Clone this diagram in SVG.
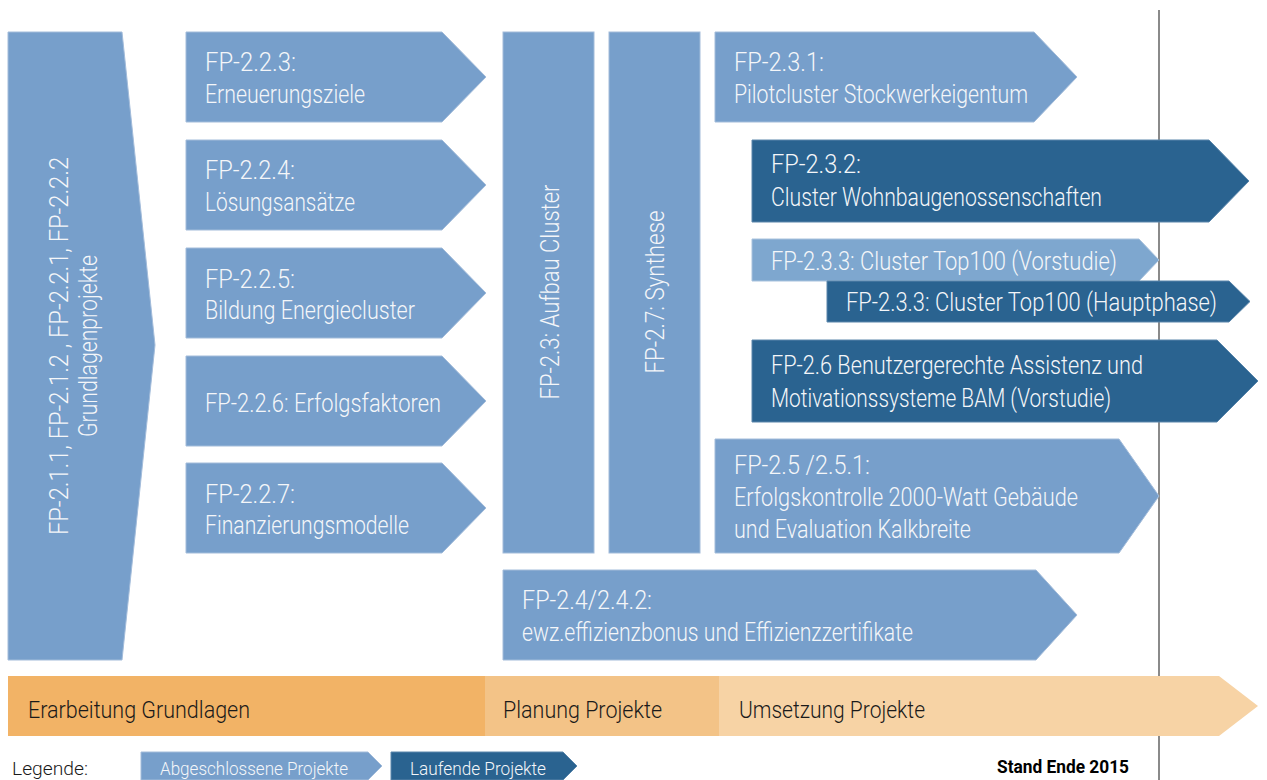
<svg xmlns="http://www.w3.org/2000/svg" width="1267" height="780" viewBox="0 0 1267 780">
<style>
.lb{fill:#779FCB;stroke:#A3BCDA;stroke-width:1}
.lv{fill:#7EA7CF;stroke:#A8C2DD;stroke-width:1}
.db{fill:#2A6390;stroke:#5A86AB;stroke-width:1}
.t{font-family:Roboto,"Liberation Sans",sans-serif;font-weight:300;font-size:25px;fill:#F4F6F9}
.ph{font-family:Roboto,"Liberation Sans",sans-serif;font-weight:300;font-size:24px;fill:#1A1A1A}
.lg{font-family:Roboto,"Liberation Sans",sans-serif;font-weight:300;font-size:19px;fill:#F4F6F9}
.lk{font-family:Roboto,"Liberation Sans",sans-serif;font-weight:300;font-size:19px;fill:#1A1A1A}
.st{font-family:Roboto,"Liberation Sans",sans-serif;font-weight:700;font-size:18px;fill:#000}
</style>
<rect width="1267" height="780" fill="#FFFFFF"/>

<g id="connectors">
<line x1="1159" y1="10" x2="1159" y2="780" stroke="#8A8A8A" stroke-width="2"/>
</g>

<g id="phase-bar">
<polygon points="8,676 1219,676 1258,706 1219,736 8,736" fill="#F7D3A5"/>
<rect x="485" y="676" width="234" height="60" fill="#F3C387"/>
<rect x="8" y="676" width="477" height="60" fill="#F2B366"/>
<text class="ph" x="28" y="718" textLength="222" lengthAdjust="spacingAndGlyphs">Erarbeitung Grundlagen</text>
<text class="ph" x="503" y="718" textLength="159" lengthAdjust="spacingAndGlyphs">Planung Projekte</text>
<text class="ph" x="739" y="718" textLength="186" lengthAdjust="spacingAndGlyphs">Umsetzung Projekte</text>
</g>

<g id="n-grundlagen">
<polygon class="lb" points="8,32 122,32 155,345 122,660 8,660"/>
<text class="t" transform="translate(68,346) rotate(-90)" text-anchor="middle" textLength="378" lengthAdjust="spacingAndGlyphs">FP-2.1.1, FP-2.1.2 , FP-2.2.1, FP-2.2.2</text>
<text class="t" transform="translate(97,346) rotate(-90)" text-anchor="middle" textLength="182" lengthAdjust="spacingAndGlyphs">Grundlagenprojekte</text>
</g>

<g id="n-223">
<polygon class="lb" points="186,32 442,32 486,77 442,122 186,122"/>
<text class="t" x="205" y="71" textLength="91" lengthAdjust="spacingAndGlyphs">FP-2.2.3:</text>
<text class="t" x="205" y="103" textLength="160" lengthAdjust="spacingAndGlyphs">Erneuerungsziele</text>
</g>
<g id="n-224">
<polygon class="lb" points="186,140 442,140 486,185 442,230 186,230"/>
<text class="t" x="205" y="179" textLength="90" lengthAdjust="spacingAndGlyphs">FP-2.2.4:</text>
<text class="t" x="205" y="211" textLength="150" lengthAdjust="spacingAndGlyphs">Lösungsansätze</text>
</g>
<g id="n-225">
<polygon class="lb" points="186,248 442,248 486,293 442,338 186,338"/>
<text class="t" x="205" y="288" textLength="90" lengthAdjust="spacingAndGlyphs">FP-2.2.5:</text>
<text class="t" x="205" y="319" textLength="210" lengthAdjust="spacingAndGlyphs">Bildung Energiecluster</text>
</g>
<g id="n-226">
<polygon class="lb" points="186,356 442,356 486,401 442,446 186,446"/>
<text class="t" x="205" y="412" textLength="236" lengthAdjust="spacingAndGlyphs">FP-2.2.6: Erfolgsfaktoren</text>
</g>
<g id="n-227">
<polygon class="lb" points="186,463 442,463 486,508 442,553 186,553"/>
<text class="t" x="205" y="503" textLength="90" lengthAdjust="spacingAndGlyphs">FP-2.2.7:</text>
<text class="t" x="205" y="534" textLength="204" lengthAdjust="spacingAndGlyphs">Finanzierungsmodelle</text>
</g>

<g id="n-23">
<rect class="lb" x="503" y="32" width="91" height="521"/>
<text class="t" transform="translate(559,292) rotate(-90)" text-anchor="middle" textLength="215" lengthAdjust="spacingAndGlyphs">FP-2.3: Aufbau Cluster</text>
</g>
<g id="n-27">
<rect class="lb" x="609" y="32" width="91" height="521"/>
<text class="t" transform="translate(664,292) rotate(-90)" text-anchor="middle" textLength="163" lengthAdjust="spacingAndGlyphs">FP-2.7: Synthese</text>
</g>

<g id="n-231">
<polygon class="lb" points="715,32 1034,32 1077,77 1034,122 715,122"/>
<text class="t" x="734" y="71" textLength="90" lengthAdjust="spacingAndGlyphs">FP-2.3.1:</text>
<text class="t" x="734" y="103" textLength="294" lengthAdjust="spacingAndGlyphs">Pilotcluster Stockwerkeigentum</text>
</g>
<g id="n-232">
<polygon class="db" points="752,140 1209,140 1249,181 1209,222 752,222"/>
<text class="t" x="771" y="173" textLength="90" lengthAdjust="spacingAndGlyphs">FP-2.3.2:</text>
<text class="t" x="771" y="206" textLength="331" lengthAdjust="spacingAndGlyphs">Cluster Wohnbaugenossenschaften</text>
</g>
<g id="n-233v">
<polygon class="lv" points="752,239 1139,239 1159,260 1139,281 752,281"/>
<text class="t" x="771" y="270" textLength="346" lengthAdjust="spacingAndGlyphs">FP-2.3.3: Cluster Top100 (Vorstudie)</text>
</g>
<g id="n-233h">
<polygon class="db" points="827,281 1229,281 1250,301.5 1229,322 827,322"/>
<text class="t" x="846" y="311" textLength="371" lengthAdjust="spacingAndGlyphs">FP-2.3.3: Cluster Top100 (Hauptphase)</text>
</g>
<g id="n-26">
<polygon class="db" points="752,340 1217,340 1258,381 1217,422 752,422"/>
<text class="t" x="771" y="374" textLength="372" lengthAdjust="spacingAndGlyphs">FP-2.6 Benutzergerechte Assistenz und</text>
<text class="t" x="771" y="407" textLength="340" lengthAdjust="spacingAndGlyphs">Motivationssysteme BAM (Vorstudie)</text>
</g>
<g id="n-25">
<polygon class="lb" points="715,439 1119,439 1159,496 1119,553 715,553"/>
<text class="t" x="734" y="474" textLength="136" lengthAdjust="spacingAndGlyphs">FP-2.5 /2.5.1:</text>
<text class="t" x="734" y="506" textLength="344" lengthAdjust="spacingAndGlyphs">Erfolgskontrolle 2000-Watt Gebäude</text>
<text class="t" x="734" y="538" textLength="237" lengthAdjust="spacingAndGlyphs">und Evaluation Kalkbreite</text>
</g>
<g id="n-24">
<polygon class="lb" points="503,570 1036,570 1077,615 1036,660 503,660"/>
<text class="t" x="522" y="609" textLength="130" lengthAdjust="spacingAndGlyphs">FP-2.4/2.4.2:</text>
<text class="t" x="522" y="641" textLength="391" lengthAdjust="spacingAndGlyphs">ewz.effizienzbonus und Effizienzzertifikate</text>
</g>

<g id="legend">
<text class="lk" x="12" y="775" textLength="76" lengthAdjust="spacingAndGlyphs">Legende:</text>
<polygon class="lb" points="141,752 368,752 382,766 368,780 141,780" stroke="none"/>
<text class="lg" x="160" y="775" textLength="188" lengthAdjust="spacingAndGlyphs">Abgeschlossene Projekte</text>
<polygon class="db" points="391,752 563,752 577,766 563,780 391,780" stroke="none"/>
<text class="lg" x="410" y="775" textLength="136" lengthAdjust="spacingAndGlyphs">Laufende Projekte</text>
<text class="st" x="997" y="773" textLength="132" lengthAdjust="spacingAndGlyphs">Stand Ende 2015</text>
</g>
</svg>
